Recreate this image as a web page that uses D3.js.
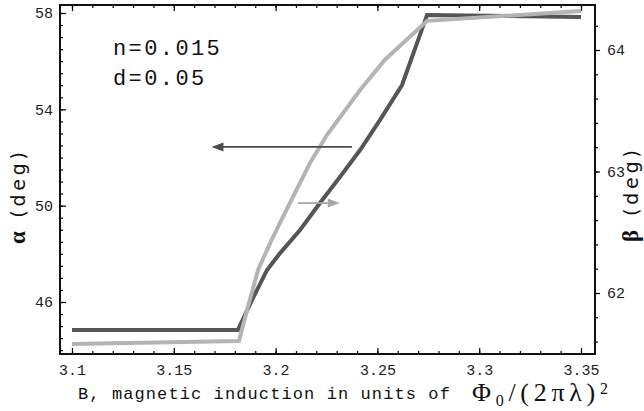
<!DOCTYPE html>
<html>
<head>
<meta charset="utf-8">
<script src="https://cdn.jsdelivr.net/npm/d3@7"></script>
<style>
  html, body { margin: 0; padding: 0; background: #fff; }
  svg { display: block; }
</style>
</head>
<body>
<svg id="chart" width="644" height="411"></svg>
<script>
// α(B): left axis
const alphaB = [3.1, 3.1815, 3.1884, 3.1958, 3.2022, 3.212, 3.2218, 3.2316, 3.2415, 3.2513, 3.2621, 3.2744, 3.35];
const alphaDeg = [44.84, 44.84, 46.08, 47.33, 48.03, 48.99, 50.11, 51.19, 52.31, 53.56, 55.01, 57.92, 57.83];

// β(B): right axis
const betaB = [3.1, 3.182, 3.1864, 3.1914, 3.1973, 3.2022, 3.2085, 3.2169, 3.2252, 3.2415, 3.2537, 3.2744, 3.35];
const betaDeg = [61.58, 61.605, 61.885, 62.19, 62.41, 62.58, 62.79, 63.07, 63.30, 63.67, 63.92, 64.24, 64.32];

// tick values
const xMajor = [3.1, 3.15, 3.2, 3.25, 3.3, 3.35];
const xTickLabels = ["3.1", "3.15", "3.2", "3.25", "3.3", "3.35"];
const alphaMajor = [46, 50, 54, 58];
const betaMajor = [62, 63, 64];

// arrows: which curve belongs to which axis
const arrowAlphaB = [3.2375, 3.1685];   // from, to
const arrowAlphaY = 52.44;
const arrowBetaB = [3.211, 3.2315];
const arrowBetaY = 62.74;

const params = ["n=0.015", "d=0.05"];

const svg = d3.select("#chart");
const L = 60, R = 595, T = 5, Bm = 354;

const x = d3.scaleLinear().domain([3.1, 3.35]).range([72, 581]);
const yA = d3.scaleLinear().domain([46, 58]).range([302, 13]);
const yB = d3.scaleLinear().domain([62, 64]).range([293, 50]);

const mono = "'Liberation Mono', 'DejaVu Sans Mono', monospace";
const dark = "#555555", light = "#b4b4b4";

// minor tick lists
const xMinor = d3.range(0, 26).map(i => 3.1 + i * 0.01);
const aMinor = d3.range(0, 30).map(i => 44 + i * 0.5).filter(v => yA(v) > T && yA(v) < Bm);
const bMinor = d3.range(0, 16).map(i => 61.4 + i * 0.2).filter(v => yB(v) > T && yB(v) < Bm);

function styleAxis(g) {
  g.select(".domain").remove();
  g.selectAll("line").attr("stroke", "#000").attr("stroke-width", 1.2);
  g.selectAll("text").attr("font-family", mono).attr("font-size", 15).attr("fill", "#222");
}

// bottom axis
svg.append("g").attr("transform", `translate(0,${Bm})`)
  .call(d3.axisBottom(x).tickValues(xMinor).tickSizeInner(-3).tickSizeOuter(0).tickFormat(""))
  .call(styleAxis);
svg.append("g").attr("transform", `translate(0,${Bm})`)
  .call(d3.axisBottom(x).tickValues(xMajor).tickSizeInner(-6).tickSizeOuter(0).tickPadding(10)
    .tickFormat((d, i) => xTickLabels[i]))
  .call(styleAxis);

// top axis (ticks only)
svg.append("g").attr("transform", `translate(0,${T})`)
  .call(d3.axisTop(x).tickValues(xMinor).tickSizeInner(-3).tickSizeOuter(0).tickFormat(""))
  .call(styleAxis);
svg.append("g").attr("transform", `translate(0,${T})`)
  .call(d3.axisTop(x).tickValues(xMajor).tickSizeInner(-6).tickSizeOuter(0).tickFormat(""))
  .call(styleAxis);

// left axis α
svg.append("g").attr("transform", `translate(${L},0)`)
  .call(d3.axisLeft(yA).tickValues(aMinor).tickSizeInner(-3).tickSizeOuter(0).tickFormat(""))
  .call(styleAxis);
svg.append("g").attr("transform", `translate(${L},0)`)
  .call(d3.axisLeft(yA).tickValues(alphaMajor).tickSizeInner(-6).tickSizeOuter(0).tickPadding(7)
    .tickFormat(d3.format("d")))
  .call(styleAxis);

// right axis β
svg.append("g").attr("transform", `translate(${R},0)`)
  .call(d3.axisRight(yB).tickValues(bMinor).tickSizeInner(3).tickSizeOuter(0).tickFormat(""))
  .call(styleAxis);
svg.append("g").attr("transform", `translate(${R},0)`)
  .call(d3.axisRight(yB).tickValues(betaMajor).tickSizeInner(5).tickSizeOuter(0).tickPadding(7)
    .tickFormat(d3.format("d")))
  .call(styleAxis);

// frame
svg.append("rect").attr("x", L).attr("y", T).attr("width", R - L).attr("height", Bm - T)
  .attr("fill", "none").attr("stroke", "#111").attr("stroke-width", 2);

// curves
const lineA = d3.line().x((d, i) => x(alphaB[i])).y(d => yA(d));
const lineB = d3.line().x((d, i) => x(betaB[i])).y(d => yB(d));

svg.append("path").datum(alphaDeg).attr("d", lineA)
  .attr("fill", "none").attr("stroke", dark).attr("stroke-width", 4).attr("stroke-linejoin", "miter");
svg.append("path").datum(betaDeg).attr("d", lineB)
  .attr("fill", "none").attr("stroke", light).attr("stroke-width", 4).attr("stroke-linejoin", "miter");

// arrows
function arrow(x1, x2, y, color) {
  const dir = Math.sign(x2 - x1);
  const headLen = 12, headW = 4.5;
  svg.append("line").attr("x1", x1).attr("x2", x2 - dir * headLen + dir * 1).attr("y1", y).attr("y2", y)
    .attr("stroke", color).attr("stroke-width", 1.8);
  svg.append("path")
    .attr("d", `M${x2},${y} L${x2 - dir * headLen},${y - headW} L${x2 - dir * headLen},${y + headW} Z`)
    .attr("fill", color);
}
arrow(x(arrowAlphaB[0]), x(arrowAlphaB[1]), yA(arrowAlphaY), "#4a4a4a");
arrow(x(arrowBetaB[0]), x(arrowBetaB[1]), yB(arrowBetaY), "#a8a8a8");

// parameter labels
svg.selectAll("text.param").data(params).enter().append("text")
  .attr("class", "param")
  .attr("x", 113).attr("y", (d, i) => 55 + i * 30)
  .attr("font-family", mono).attr("font-size", 22).attr("letter-spacing", 2.4)
  .attr("fill", "#111")
  .text(d => d);

// x-axis title
const xt = svg.append("text").attr("x", 78).attr("y", 399).attr("fill", "#111");
xt.append("tspan").attr("font-family", mono).attr("font-size", 17).attr("letter-spacing", 1.1)
  .text("B, magnetic induction in units of");
const phi = svg.append("text").attr("x", 472).attr("y", 401).attr("fill", "#111")
  .attr("font-family", "'Liberation Serif', 'DejaVu Serif', serif").attr("font-size", 26)
  .attr("textLength", 136).attr("lengthAdjust", "spacing");
phi.append("tspan").text("Φ");
phi.append("tspan").attr("font-size", 16).attr("dy", 5).text("0");
phi.append("tspan").attr("dy", -5).text("/(2πλ)");
phi.append("tspan").attr("font-size", 16).attr("dy", -7).text("2");

// y-axis titles
function yTitle(cx, cy, sym, len) {
  const t = svg.append("text")
    .attr("transform", `translate(${cx},${cy}) rotate(-90)`)
    .attr("text-anchor", "middle").attr("fill", "#111")
    .attr("font-family", "'DejaVu Sans', sans-serif").attr("font-size", 19)
    .attr("textLength", len).attr("lengthAdjust", "spacing");
  t.append("tspan").attr("font-family", "'Liberation Serif', serif").attr("font-weight", "bold")
    .attr("font-size", 23).text(sym);
  t.append("tspan").text(" (deg)");
}
yTitle(25, 198, "α", 92);
yTitle(638, 196, "β", 92);
</script>
</body>
</html>
